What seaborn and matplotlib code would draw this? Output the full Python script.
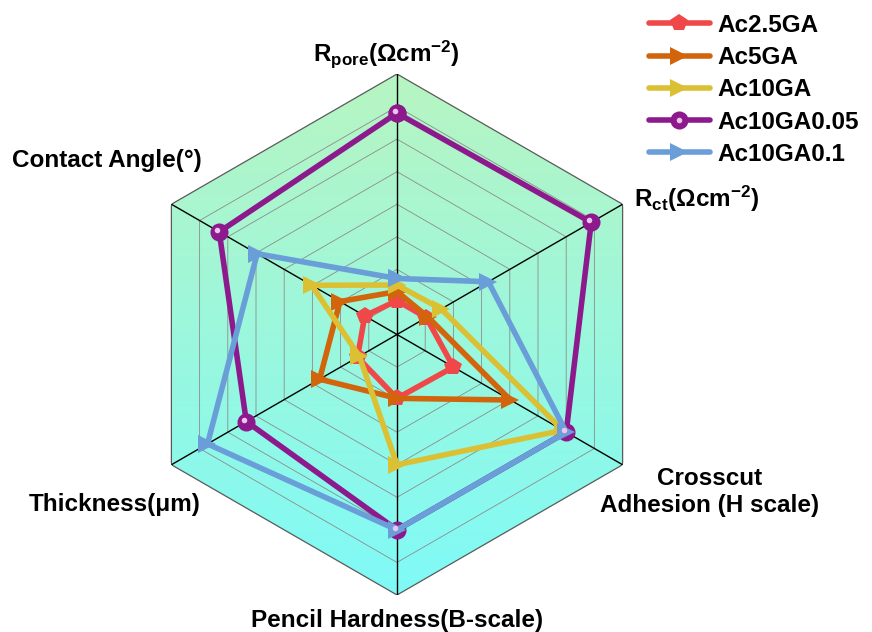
import numpy as np
import pandas as pd
import matplotlib
matplotlib.use("Agg")
import matplotlib.pyplot as plt
import seaborn as sns
from matplotlib.patches import Polygon
from matplotlib.lines import Line2D
from matplotlib.legend_handler import HandlerTuple
from matplotlib.transforms import offset_copy

# ---- data (normalised to the outer ring = 1) ----
axis_labels = [
    "R$_{pore}$(\u03a9cm$^{-2}$)",
    "R$_{ct}$(\u03a9cm$^{-2}$)",
    "Crosscut\nAdhesion (H scale)",
    "Pencil Hardness(B-scale)",
    "Thickness(\u03bcm)",
    "Contact Angle(\u00b0)",
]
series_names = ["Ac2.5GA", "Ac5GA", "Ac10GA", "Ac10GA0.05", "Ac10GA0.1"]
ac2_5ga = [0.13, 0.13, 0.25, 0.245, 0.175, 0.143]
ac5ga = [0.165, 0.136, 0.503, 0.245, 0.343, 0.253]
ac10ga = [0.19, 0.196, 0.735, 0.50, 0.167, 0.378]
ac10ga0_05 = [0.85, 0.861, 0.75, 0.75, 0.668, 0.788]
ac10ga0_1 = [0.215, 0.405, 0.75, 0.75, 0.84, 0.62]
n_rings = 8

series_values = [ac2_5ga, ac5ga, ac10ga, ac10ga0_05, ac10ga0_1]
colors = ["#f04848", "#d2640c", "#dcc034", "#8c1a8c", "#6a9ed8"]
markers = ["p", ">", ">", "o", ">"]

# ---- style ----
sns.set_theme(style="white")
plt.rcParams["font.family"] = ["Liberation Sans", "DejaVu Sans"]
plt.rcParams["font.weight"] = "bold"
plt.rcParams["text.color"] = "black"
plt.rcParams["mathtext.fontset"] = "custom"
plt.rcParams["mathtext.rm"] = "Liberation Sans:bold"
plt.rcParams["mathtext.it"] = "Liberation Sans:bold"
plt.rcParams["mathtext.bf"] = "Liberation Sans:bold"
plt.rcParams["mathtext.default"] = "regular"

W, H = 872, 632
fig = plt.figure(figsize=(W / 100, H / 100), dpi=100)

cx, cy, R = 397, 334.5, 260.5
pos = [(cx - R) / W, 1 - (cy + R) / H, 2 * R / W, 2 * R / H]

n = len(axis_labels)
theta = np.arange(n + 1) * 2 * np.pi / n

# gradient background inside the hexagon
ax_bg = fig.add_axes(pos)
ax_bg.set_xlim(-1, 1)
ax_bg.set_ylim(-1, 1)
ax_bg.axis("off")
top = np.array([0.72, 0.96, 0.76])
bot = np.array([0.50, 0.98, 0.97])
t = np.linspace(0, 1, 256)[:, None]
grad = (top * (1 - t) + bot * t)[:, None, :]
img = ax_bg.imshow(grad, extent=(-1, 1, -1, 1), aspect="auto", origin="upper")
hexagon = Polygon(np.c_[np.sin(theta[:n]), np.cos(theta[:n])], closed=True,
                  transform=ax_bg.transData)
img.set_clip_path(hexagon)

# radar axes
ax = fig.add_axes(pos, projection="polar")
ax.patch.set_alpha(0)
ax.set_theta_zero_location("N")
ax.set_theta_direction(-1)
ax.set_ylim(0, 1)
ax.grid(False)
ax.set_xticks([])
ax.set_yticks([])
ax.spines["polar"].set_visible(False)

for k in range(1, n_rings + 1):
    r = k / n_rings
    ax.plot(theta, [r] * (n + 1), color="#5a5a5a" if k == n_rings else "#8c8c8c",
            lw=0.9 if k == n_rings else 0.6, zorder=1)
for a in theta[:n]:
    ax.plot([a, a], [0, 1], color="black", lw=1.0, zorder=1)

rows = []
for name, vals in zip(series_names, series_values):
    for i in range(n + 1):
        rows.append({"series": name, "theta": theta[i], "value": vals[i % n]})
df = pd.DataFrame(rows)

lw, ms = 4.0, 13
sns.lineplot(data=df, x="theta", y="value", hue="series", style="series",
             hue_order=series_names, style_order=series_names,
             palette=colors, markers=dict(zip(series_names, markers)),
             dashes=False, sort=False, estimator=None, linewidth=lw,
             markersize=ms, markeredgewidth=0, ax=ax)

# glossy highlight on the spherical markers
hl = offset_copy(ax.transData, fig=fig, x=-2, y=2, units="dots")
ax.plot(theta[:n], ac10ga0_05, "o", ms=4, color="#ecc4ec", mew=0,
        transform=hl, zorder=10)

ax.set_xlabel("")
ax.set_ylabel("")

# legend
old = ax.get_legend()
handles = list(old.legend_handles)
labels = [tx.get_text() for tx in old.get_texts()]
old.remove()
for h in handles:
    h.set_linewidth(lw)
    h.set_markersize(ms)
    h.set_markeredgewidth(0)
idx = labels.index("Ac10GA0.05")
shine = Line2D([], [], marker="o", ms=4, color="#ecc4ec", mew=0, linestyle="none")
handles[idx] = (handles[idx], shine)
fig.legend(handles, labels, loc="upper left",
           bbox_to_anchor=(649 / W, 1 - 14 / H), frameon=False,
           fontsize=17.5, handlelength=2.5, handletextpad=0.3,
           labelspacing=0.38, borderpad=0, borderaxespad=0,
           handler_map={tuple: HandlerTuple(ndivide=1)})

# axis labels
def fxy(x, y):
    return x / W, 1 - y / H

fs = 17.5
fig.text(*fxy(386, 54), axis_labels[0], ha="center", va="center", fontsize=fs)
fig.text(*fxy(634, 199), axis_labels[1], ha="left", va="center", fontsize=fs)
fig.text(*fxy(710, 492), axis_labels[2], ha="center", va="center", fontsize=fs,
         linespacing=1.25)
fig.text(*fxy(397, 620), axis_labels[3], ha="center", va="center", fontsize=fs)
fig.text(*fxy(201, 505), axis_labels[4], ha="right", va="center", fontsize=fs)
fig.text(*fxy(12, 160), axis_labels[5], ha="left", va="center", fontsize=fs)

fig.savefig("out.png", dpi=100)
